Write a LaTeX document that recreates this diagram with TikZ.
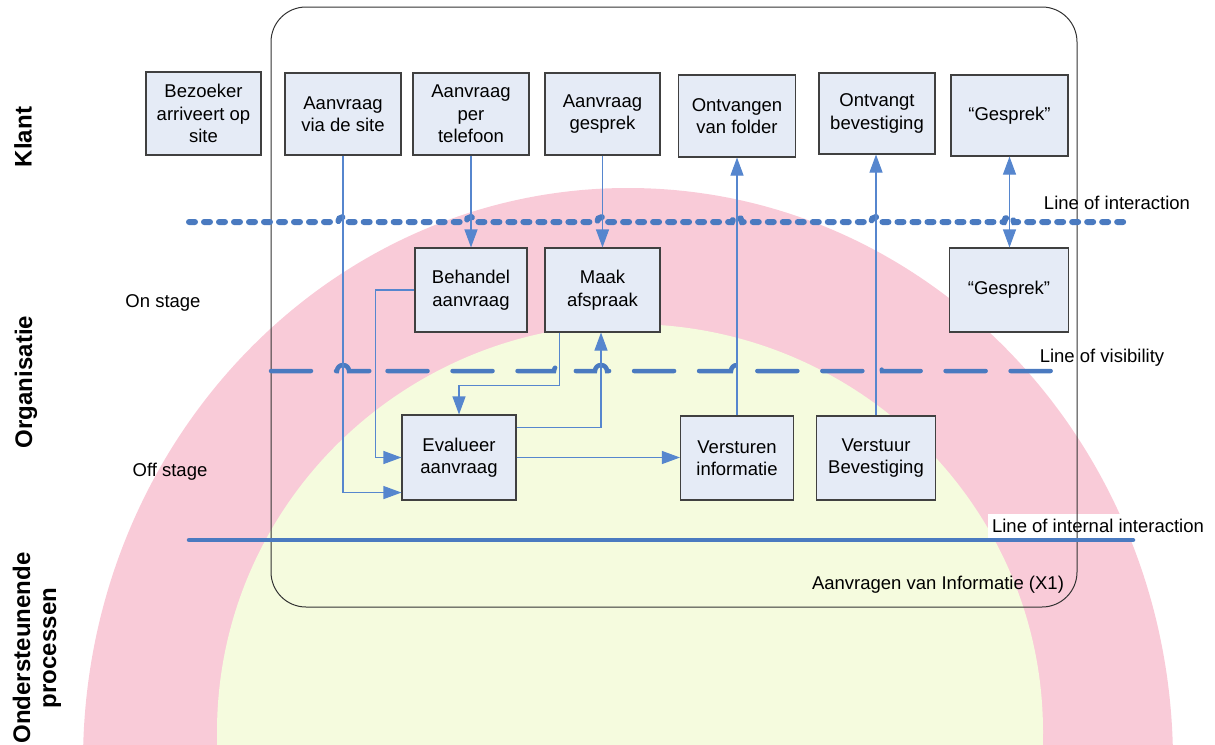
\documentclass[tikz,border=0pt]{standalone}
\usepackage{fontspec}
\setmainfont{Liberation Sans}
\usetikzlibrary{arrows.meta,calc}
\definecolor{pinkbg}{RGB}{249,203,216}
\definecolor{yellowbg}{RGB}{245,251,222}
\definecolor{boxfill}{RGB}{229,235,246}
\definecolor{boxline}{RGB}{64,64,64}
\definecolor{thickblue}{RGB}{74,122,192}
\definecolor{connblue}{RGB}{86,134,206}
\tikzset{
  box/.style={draw=boxline, line width=1.1pt, fill=boxfill, align=center, inner sep=0pt,
    font=\fontsize{18.5}{22.5}\selectfont},
  conn/.style={draw=connblue, line width=1.1pt, -{Triangle[length=18pt,width=13pt]}},
  biconn/.style={draw=connblue, line width=1.1pt, {Triangle[length=18pt,width=13pt]}-{Triangle[length=18pt,width=13pt]}},
  lbl/.style={font=\fontsize{18.5}{22.5}\selectfont, inner sep=0pt},
  side/.style={font=\fontsize{24}{26}\selectfont\bfseries, rotate=90, align=center, inner sep=0pt},
  dotline/.style={draw=thickblue, line width=6pt, line cap=round, dash pattern=on 6pt off 9pt},
  dashline/.style={draw=thickblue, line width=4.5pt, line cap=round, dash pattern=on 40pt off 25pt},
  solidline/.style={draw=thickblue, line width=4.5pt, line cap=round},
  frame/.style={draw=black!80, line width=1pt, rounded corners=35pt}
}
\begin{document}
\begin{tikzpicture}[x=1pt,y=-1pt]
\useasboundingbox (0,0) rectangle (1215,744);
% background
\begin{scope}
  \clip (0,0) rectangle (1215,744);
  \fill[pinkbg] (628,762) ellipse [x radius=545pt, y radius=574pt];
  \fill[yellowbg] (630,732) ellipse [x radius=413pt, y radius=408pt];
\end{scope}
% label with white background
\node[lbl, fill=white, minimum width=220pt, minimum height=24pt] (lii) at (1098,525.5) {Line of internal interaction};
% frame
\draw[frame] (271,7) rectangle (1077,607);
% thick lines
\draw[dotline] (189,222) -- (338,222) arc[start angle=180,end angle=0,radius=5pt]
  -- (466,222) arc[start angle=180,end angle=0,radius=5pt]
  -- (597,222) arc[start angle=180,end angle=0,radius=5pt]
  -- (732,222) arc[start angle=180,end angle=0,radius=5pt]
  -- (871,222) arc[start angle=180,end angle=0,radius=5pt]
  -- (1004,222) arc[start angle=180,end angle=0,radius=5pt]
  -- (1128,222);
\draw[dashline] (271,371) -- (337,371) arc[start angle=180,end angle=0,radius=6pt]
  -- (370,371) arc[start angle=180,end angle=0,radius=6pt]
  -- (554,371) arc[start angle=180,end angle=0,radius=6pt]
  -- (595,371) arc[start angle=180,end angle=0,radius=6pt]
  -- (731,371) arc[start angle=180,end angle=0,radius=6pt]
  -- (870,371) arc[start angle=180,end angle=0,radius=6pt]
  -- (1073,371);
\draw[solidline] (189,540) -- (1133,540);
% boxes
\node[box, minimum width=115pt, minimum height=83pt] (bez) at (203.5,113.5) {Bezoeker\\arriveert op\\site};
\node[box, minimum width=116pt, minimum height=82pt] (via) at (343,114) {Aanvraag\\via de site};
\node[box, minimum width=116pt, minimum height=82pt] (tel) at (471,114) {Aanvraag\\per\\telefoon};
\node[box, minimum width=115pt, minimum height=82pt] (gespr) at (602.5,114) {Aanvraag\\gesprek};
\node[box, minimum width=117pt, minimum height=82pt] (ontv) at (737,116) {Ontvangen\\van folder};
\node[box, minimum width=116pt, minimum height=81pt] (ontvb) at (877,113.5) {Ontvangt\\bevestiging};
\node[box, minimum width=117pt, minimum height=81pt] (gtop) at (1009.5,115.5) {“Gesprek”};
\node[box, minimum width=112pt, minimum height=84pt] (beh) at (471,290) {Behandel\\aanvraag};
\node[box, minimum width=115pt, minimum height=84pt] (maak) at (602.5,290) {Maak\\afspraak};
\node[box, minimum width=119pt, minimum height=84pt] (gbot) at (1009,290) {“Gesprek”};
\node[box, minimum width=114pt, minimum height=85pt] (eval) at (459,457.5) {Evalueer\\aanvraag};
\node[box, minimum width=113pt, minimum height=84pt] (versi) at (737,458) {Versturen\\informatie};
\node[box, minimum width=119pt, minimum height=84pt] (verstb) at (876,458) {Verstuur\\Bevestiging};
% connectors
\draw[conn] (via.south) |- ([yshift=8pt]eval.south west);
\draw[conn] (beh.west) -| ([xshift=-26pt]eval.west) -- (eval.west);
\draw[conn] (tel.south) -- (beh.north);
\draw[conn] (gespr.south) -- (maak.north);
\draw[conn] ([xshift=15pt]maak.south west) |- ([yshift=29pt]eval.north) -- (eval.north);
\draw[conn] ([yshift=-13pt]eval.north east) -| ([xshift=-1.5pt]maak.south);
\draw[conn] (eval.east) -- (eval.east -| versi.west);
\draw[conn] (versi.north) -- (versi.north |- ontv.south);
\draw[conn] (verstb.north) -- (verstb.north |- ontvb.south);
\draw[biconn] (gtop.south) -- (gtop.south |- gbot.north);
% texts
\node[lbl] (loi) at (1117,203) {Line of interaction};
\node[lbl] (lov) at (1102,358) {Line of visibility};
\node[lbl] (x1) at (938,585) {Aanvragen van Informatie (X1)};
\node[lbl] (on) at (163,303) {On stage};
\node[lbl] (off) at (170,472) {Off stage};
\node[side] (klant) at (23,137) {Klant};
\node[side] (org) at (26,382) {Organisatie};
\node[side] (ond) at (37,648) {Ondersteunende\\processen};
\end{tikzpicture}
\end{document}
